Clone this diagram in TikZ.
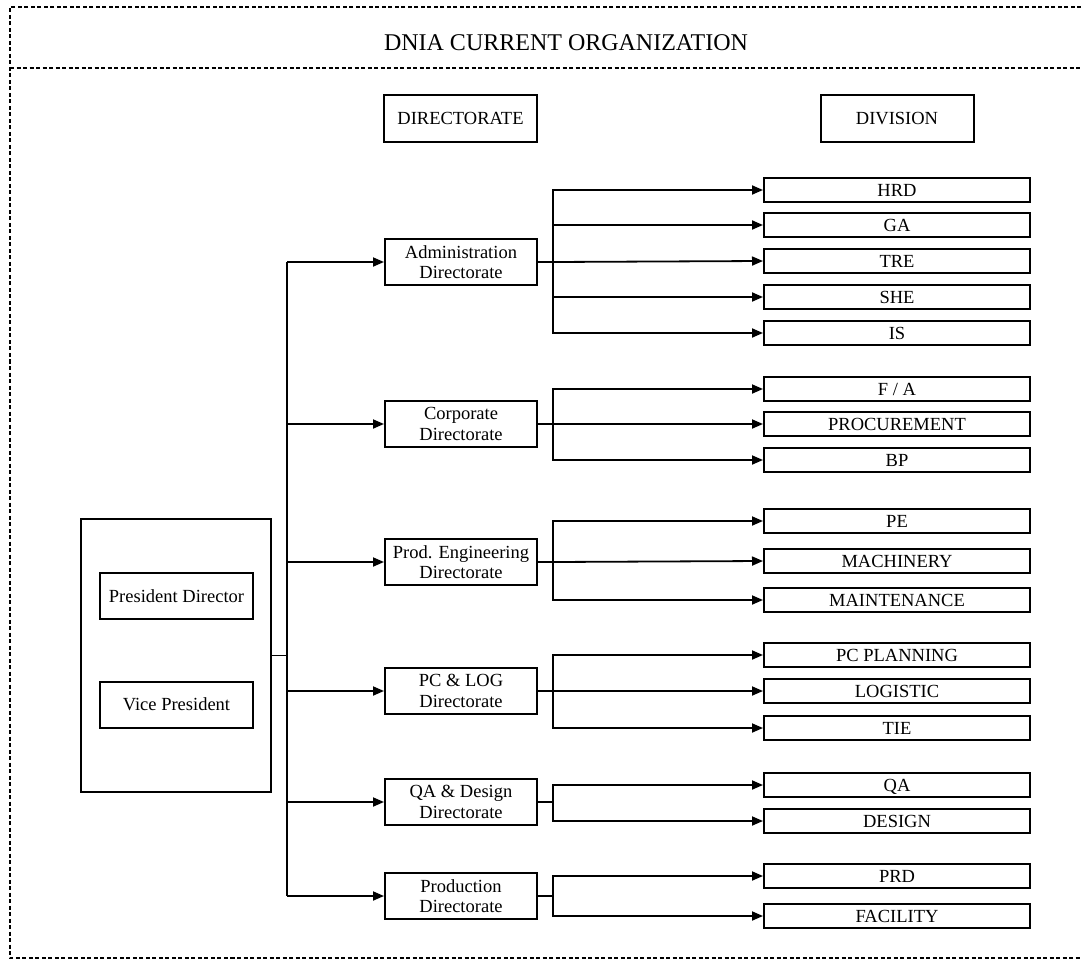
\documentclass[tikz,border=0pt]{standalone}
\usepackage{fontspec}
\setmainfont{Liberation Serif}
\usepackage{tikz}
\usetikzlibrary{arrows.meta}
\tikzset{
every picture/.style={line join=miter},
frame/.style={line width=2.2pt, dash pattern=on 4pt off 2.5pt},
hdbox/.style={draw, line width=2pt, minimum width=153pt, minimum height=47pt, inner sep=0pt},
dirbox/.style={draw, line width=2pt, minimum width=152pt, minimum height=46pt, inner sep=0pt, align=center},
divbox/.style={draw, line width=2pt, minimum width=266pt, minimum height=24pt, inner sep=0pt, text height=12.5pt, text depth=0pt},
conn/.style={line width=1.8pt},
arr/.style={conn, -{Triangle[length=11pt,width=9pt]}}
}

\begin{document}
\begin{tikzpicture}[x=1pt, y=-1pt, font=\fontsize{18.5}{20.5}\selectfont]
    \useasboundingbox (0,0) rectangle (1081,960);
    \draw[frame] (1081,7) -- (10,7) -- (10,958) -- (1081,958);
    \draw[frame] (10,68) -- (1081,68);
    \node[font=\fontsize{24}{28}\selectfont] (title) at (566,43) {DNIA CURRENT ORGANIZATION};

    \node[hdbox] (dirhead) at (460.5,118.5) {DIRECTORATE};
    \node[hdbox] (divhead) at (897,118.5) {DIVISION};

    \node[draw, line width=2pt, minimum width=190pt, minimum height=273pt] (presblk) at (176,655.5) {};
    \node[dirbox, minimum width=153pt] (presdir) at (176.5,596) {President Director};
    \node[dirbox, minimum width=153pt] (vicepres) at (176.5,704.5) {Vice President};

    \node[dirbox] (adm) at (461,262) {Administration\\Directorate};
    \node[dirbox] (corp) at (461,424) {Corporate\\Directorate};
    \node[dirbox] (peng) at (461,562) {Prod. Engineering\\Directorate};
    \node[dirbox] (pclog) at (461,691) {PC \& LOG\\Directorate};
    \node[dirbox] (qad) at (461,802) {QA \& Design\\Directorate};
    \node[dirbox] (prod) at (461,896) {Production\\Directorate};

    \node[divbox] (hrd) at (897,190) {HRD};
    \node[divbox] (ga) at (897,225) {GA};
    \node[divbox] (tre) at (897,261) {TRE};
    \node[divbox] (she) at (897,297) {SHE};
    \node[divbox] (is) at (897,333) {IS};
    \node[divbox] (fa) at (897,389) {F / A};
    \node[divbox] (procure) at (897,424) {PROCUREMENT};
    \node[divbox] (bp) at (897,460) {BP};
    \node[divbox] (pe) at (897,521) {PE};
    \node[divbox] (machine) at (897,561) {MACHINERY};
    \node[divbox] (maint) at (897,600) {MAINTENANCE};
    \node[divbox] (pcplan) at (897,655) {PC PLANNING};
    \node[divbox] (logis) at (897,691) {LOGISTIC};
    \node[divbox] (tie) at (897,728) {TIE};
    \node[divbox] (qa) at (897,785) {QA};
    \node[divbox] (design) at (897,821) {DESIGN};
    \node[divbox] (prd) at (897,876) {PRD};
    \node[divbox] (facil) at (897,916) {FACILITY};

    \coordinate (hub) at ([xshift=15pt]presblk.east);
    \draw[conn] (presblk.east) -- (hub);
    \draw[conn] (hub |- adm.west) -- (hub |- prod.west);
    \draw[arr] (hub |- adm.west) -- (adm.west);
    \draw[arr] (hub |- corp.west) -- (corp.west);
    \draw[arr] (hub |- peng.west) -- (peng.west);
    \draw[arr] (hub |- pclog.west) -- (pclog.west);
    \draw[arr] (hub |- qad.west) -- (qad.west);
    \draw[arr] (hub |- prod.west) -- (prod.west);

    \draw[conn] (adm.east) -- ++(15,0) coordinate (admj);
    \draw[arr] (admj) |- (hrd.west);
    \draw[arr] (admj) |- (ga.west);
    \draw[arr] (admj) -- (tre.west);
    \draw[arr] (admj) |- (she.west);
    \draw[arr] (admj) |- (is.west);

    \draw[conn] (corp.east) -- ++(15,0) coordinate (corpj);
    \draw[arr] (corpj) |- (fa.west);
    \draw[arr] (corpj) -- (procure.west);
    \draw[arr] (corpj) |- (bp.west);

    \draw[conn] (peng.east) -- ++(15,0) coordinate (pengj);
    \draw[arr] (pengj) |- (pe.west);
    \draw[arr] (pengj) -- (machine.west);
    \draw[arr] (pengj) |- (maint.west);

    \draw[conn] (pclog.east) -- ++(15,0) coordinate (pclogj);
    \draw[arr] (pclogj) |- (pcplan.west);
    \draw[arr] (pclogj) -- (logis.west);
    \draw[arr] (pclogj) |- (tie.west);

    \draw[conn] (qad.east) -- ++(15,0) coordinate (qadj);
    \draw[arr] (qadj) |- (qa.west);
    \draw[arr] (qadj) |- (design.west);

    \draw[conn] (prod.east) -- ++(15,0) coordinate (prodj);
    \draw[arr] (prodj) |- (prd.west);
    \draw[arr] (prodj) |- (facil.west);
\end{tikzpicture}
\end{document}
